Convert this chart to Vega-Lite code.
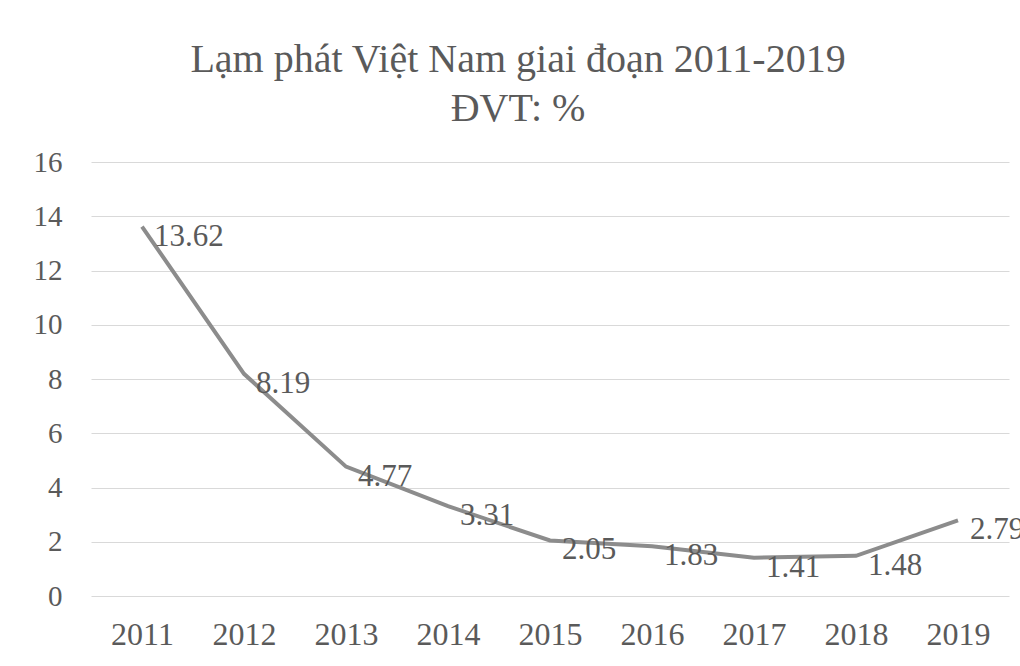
{
  "$schema": "https://vega.github.io/schema/vega-lite/v6.json",
  "autosize": {"type": "none"},
  "width": 918,
  "height": 434,
  "padding": {"left": 91, "top": 162, "right": 11, "bottom": 70},
  "background": "white",
  "config": {"view": {"stroke": null}},
  "title": {
    "text": ["Lạm phát Việt Nam giai đoạn 2011-2019", "ĐVT: %"],
    "font": "Liberation Serif",
    "fontSize": 40,
    "fontWeight": "normal",
    "color": "#5a5a5a",
    "lineHeight": 49,
    "baseline": "bottom",
    "anchor": "middle",
    "dx": -32,
    "offset": -21
  },
  "data": {
    "values": [
      {"year": "2011", "value": 13.62},
      {"year": "2012", "value": 8.19},
      {"year": "2013", "value": 4.77},
      {"year": "2014", "value": 3.31},
      {"year": "2015", "value": 2.05},
      {"year": "2016", "value": 1.83},
      {"year": "2017", "value": 1.41},
      {"year": "2018", "value": 1.48},
      {"year": "2019", "value": 2.79}
    ]
  },
  "encoding": {
    "x": {
      "field": "year",
      "type": "ordinal",
      "scale": {"type": "point", "padding": 0.5},
      "axis": {
        "title": null,
        "labelAngle": 0,
        "domain": false,
        "ticks": false,
        "grid": false,
        "labelFont": "Liberation Serif",
        "labelFontSize": 32,
        "labelColor": "#5a5a5a",
        "labelPadding": 23
      }
    },
    "y": {
      "field": "value",
      "type": "quantitative",
      "scale": {"domain": [0, 16], "nice": false},
      "axis": {
        "title": null,
        "values": [0, 2, 4, 6, 8, 10, 12, 14, 16],
        "domain": false,
        "ticks": false,
        "grid": true,
        "gridColor": "#d9d9d9",
        "gridWidth": 1,
        "labelFont": "Liberation Serif",
        "labelFontSize": 29,
        "labelColor": "#5a5a5a",
        "labelPadding": 29
      }
    }
  },
  "layer": [
    {
      "mark": {"type": "line", "color": "#8c8c8c", "strokeWidth": 4, "clip": false}
    },
    {
      "mark": {
        "type": "text",
        "align": "left",
        "baseline": "middle",
        "dx": 12,
        "dy": 10,
        "font": "Liberation Serif",
        "fontSize": 31,
        "color": "#5a5a5a",
        "clip": false
      },
      "encoding": {"text": {"field": "value", "type": "quantitative", "format": ".2f"}}
    }
  ]
}
